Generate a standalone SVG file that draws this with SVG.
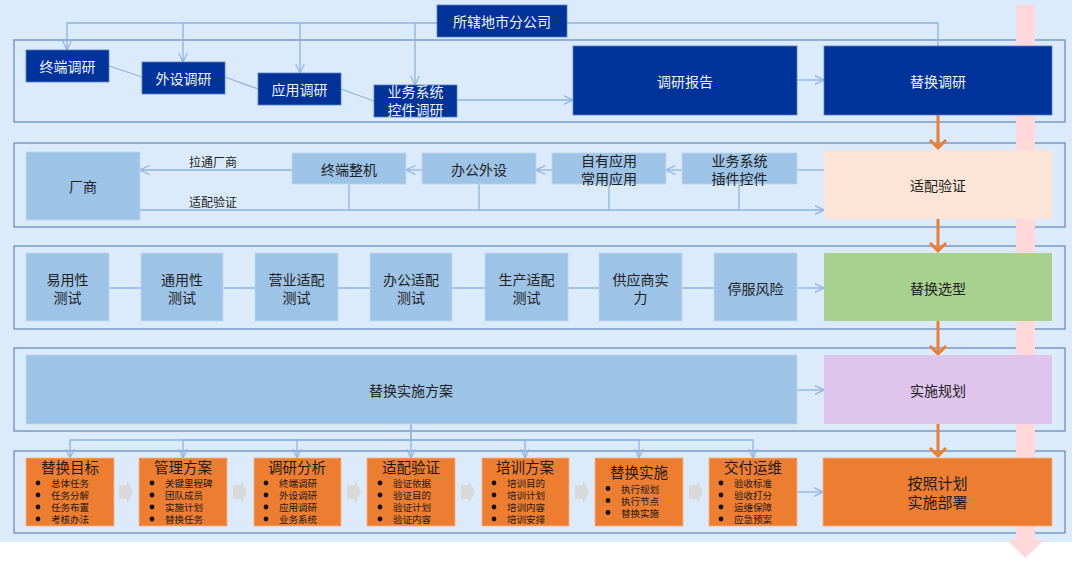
<svg xmlns="http://www.w3.org/2000/svg" width="1080" height="561" viewBox="0 0 1080 561">
<style>
text{font-family:"Noto Sans CJK SC","Noto Sans",sans-serif;text-anchor:middle;dominant-baseline:central}
.frame{fill:none;stroke:#6C8EBF;stroke-width:1.3}
.dk{fill:#003399;stroke:#5B7FC4;stroke-width:0.8}
.lt{fill:#9DC3E6;stroke:#BDD7EE;stroke-width:0.8}
.or{fill:#ED7D31;stroke:#F4B183;stroke-width:0.8}
.wt{fill:#F2F2F2;font-size:14px}
.bt{fill:#222;font-size:14px}
.lb{fill:#222;font-size:12px;text-anchor:start}
.ttl{fill:#1a1a1a;font-size:14.5px}
.s5{fill:#1a1a1a;font-size:15px}
.it{fill:#1a1a1a;font-size:9.5px;text-anchor:start}
.c{fill:none;stroke:#8DB4E2;stroke-width:1.3}
.ca{fill:none;stroke:#8DB4E2;stroke-width:1.3;marker-end:url(#ah)}
.oa{fill:none;stroke:#ED7D31;stroke-width:3}
.chev{fill:#D9D9D9}
</style>
<defs>
<marker id="ah" viewBox="0 0 10 10" refX="9.5" refY="5" markerWidth="10" markerHeight="10" markerUnits="userSpaceOnUse" orient="auto">
<path d="M0,0.5 L9.5,5 L0,9.5" fill="none" stroke="#8DB4E2" stroke-width="1.2"/>
</marker>
</defs>
<rect x="0" y="0" width="1072" height="542" fill="#DCEBFB"/>
<g id="frames">
<rect class="frame" x="14" y="40" width="1051" height="82"/>
<rect class="frame" x="14" y="143" width="1051" height="84"/>
<rect class="frame" x="14" y="246" width="1051" height="83"/>
<rect class="frame" x="14" y="348" width="1051" height="83"/>
<rect class="frame" x="14" y="451" width="1051" height="82"/>
</g>
<path id="timeline" d="M1016,5 H1035 V540 H1044 L1025.5,558 L1007,540 H1016 Z" fill="#FFD9DA"/>
<g id="connectors">
<path class="ca" d="M437,23 H67 V50"/>
<path class="ca" d="M183,23 V62"/>
<path class="ca" d="M300,23 V73"/>
<path class="ca" d="M415,23 V85"/>
<path class="c" d="M567,23 H938 V46"/>
<path class="c" d="M109,66 L142,77"/>
<path class="c" d="M225,77 L258,89"/>
<path class="c" d="M341,89 L374,101"/>
<path class="ca" d="M457,100 H573"/>
<path class="ca" d="M797,80 H824"/>
<path class="ca" d="M292,170 H140"/>
<path class="ca" d="M422,170 H406"/>
<path class="ca" d="M552,170 H536"/>
<path class="ca" d="M682,170 H666"/>
<path class="c" d="M824,170 H797"/>
<path class="ca" d="M140,210 H824"/>
<path class="c" d="M349,184 V210 M479,184 V210 M609,184 V210 M739,184 V210"/>
<path class="c" d="M109,288 H141 M223,288 H255 M338,288 H370 M452,288 H485 M568,288 H599 M682,288 H714"/>
<path class="ca" d="M797,288 H824"/>
<path class="ca" d="M797,390 H824"/>
<path class="ca" d="M411,424 V440 H70 V458"/>
<path class="ca" d="M411,440 H183 V458"/>
<path class="ca" d="M411,440 H297 V458"/>
<path class="ca" d="M411,424 V458"/>
<path class="ca" d="M411,440 H525 V458"/>
<path class="ca" d="M411,440 H639 V458"/>
<path class="ca" d="M411,440 H753 V458"/>
<path class="ca" d="M797,492 H823"/>
<path class="chev" d="M119,485 H127 V480 L133,492 L127,504 V499 H119 Z"/>
<path class="chev" d="M233,485 H241 V480 L247,492 L241,504 V499 H233 Z"/>
<path class="chev" d="M347,485 H355 V480 L361,492 L355,504 V499 H347 Z"/>
<path class="chev" d="M461,485 H469 V480 L475,492 L469,504 V499 H461 Z"/>
<path class="chev" d="M575,485 H583 V480 L589,492 L583,504 V499 H575 Z"/>
<path class="chev" d="M689,485 H697 V480 L703,492 L697,504 V499 H689 Z"/>
<path class="oa" d="M938,115 V148 M930,140 L938,148 L946,140"/>
<path class="oa" d="M938,219 V251 M930,243 L938,251 L946,243"/>
<path class="oa" d="M938,321 V354 M930,346 L938,354 L946,346"/>
<path class="oa" d="M938,424 V456 M930,448 L938,456 L946,448"/>
</g>
<g id="n-branch"><rect class="dk" x="437" y="5" width="130" height="32"/><text class="wt" x="502" y="21">所辖地市分公司</text></g>
<g id="n-r1a"><rect class="dk" x="26" y="50" width="83" height="32"/><text class="wt" x="67.5" y="66">终端调研</text></g>
<g id="n-r1b"><rect class="dk" x="142" y="62" width="83" height="32"/><text class="wt" x="183.5" y="78">外设调研</text></g>
<g id="n-r1c"><rect class="dk" x="258" y="73" width="83" height="32"/><text class="wt" x="299.5" y="89">应用调研</text></g>
<g id="n-r1d"><rect class="dk" x="374" y="85" width="83" height="32"/><text class="wt" x="415.5" y="91">业务系统</text><text class="wt" x="415.5" y="109">控件调研</text></g>
<g id="n-report"><rect class="dk" x="573" y="46" width="224" height="69"/><text class="wt" x="685" y="80.5">调研报告</text></g>
<g id="n-s1"><rect class="dk" x="824" y="46" width="228" height="69"/><text class="wt" x="938" y="80.5">替换调研</text></g>
<g id="n-vendor"><rect class="lt" x="26" y="152" width="114" height="68"/><text class="bt" x="83" y="186">厂商</text></g>
<text class="lb" x="189" y="161">拉通厂商</text>
<text class="lb" x="189" y="201">适配验证</text>
<g id="n-r2a"><rect class="lt" x="292" y="153" width="114" height="31"/><text class="bt" x="349" y="168.5">终端整机</text></g>
<g id="n-r2b"><rect class="lt" x="422" y="153" width="114" height="31"/><text class="bt" x="479" y="168.5">办公外设</text></g>
<g id="n-r2c"><rect class="lt" x="552" y="153" width="114" height="31"/><text class="bt" x="609" y="159.5">自有应用</text><text class="bt" x="609" y="177.5">常用应用</text></g>
<g id="n-r2d"><rect class="lt" x="682" y="153" width="115" height="31"/><text class="bt" x="739.5" y="159.5">业务系统</text><text class="bt" x="739.5" y="177.5">插件控件</text></g>
<g id="n-s2"><rect x="824" y="150" width="228" height="69" fill="#FCE4D6"/><text class="bt" x="938" y="185">适配验证</text></g>
<g id="n-r3a"><rect class="lt" x="26" y="253" width="83" height="68"/><text class="bt" x="67.5" y="279">易用性</text><text class="bt" x="67.5" y="297">测试</text></g>
<g id="n-r3b"><rect class="lt" x="141" y="253" width="82" height="68"/><text class="bt" x="182" y="279">通用性</text><text class="bt" x="182" y="297">测试</text></g>
<g id="n-r3c"><rect class="lt" x="255" y="253" width="83" height="68"/><text class="bt" x="296.5" y="279">营业适配</text><text class="bt" x="296.5" y="297">测试</text></g>
<g id="n-r3d"><rect class="lt" x="370" y="253" width="82" height="68"/><text class="bt" x="411" y="279">办公适配</text><text class="bt" x="411" y="297">测试</text></g>
<g id="n-r3e"><rect class="lt" x="485" y="253" width="83" height="68"/><text class="bt" x="526.5" y="279">生产适配</text><text class="bt" x="526.5" y="297">测试</text></g>
<g id="n-r3f"><rect class="lt" x="599" y="253" width="83" height="68"/><text class="bt" x="640.5" y="279">供应商实</text><text class="bt" x="640.5" y="297">力</text></g>
<g id="n-r3g"><rect class="lt" x="714" y="253" width="83" height="68"/><text class="bt" x="755.5" y="288">停服风险</text></g>
<g id="n-s3"><rect x="824" y="253" width="228" height="68" fill="#A9D18E"/><text class="bt" x="938" y="288">替换选型</text></g>
<g id="n-plan"><rect class="lt" x="26" y="355" width="771" height="69"/><text class="bt" x="411" y="390">替换实施方案</text></g>
<g id="n-s4"><rect x="824" y="355" width="228" height="69" fill="#DFC4EC"/><text class="bt" x="938" y="390">实施规划</text></g>
<g id="n-r5a"><rect class="or" x="26" y="458" width="88" height="68"/><text class="ttl" x="70" y="466">替换目标</text>
<g fill="#111"><circle cx="38" cy="483" r="2.4"/><circle cx="38" cy="495" r="2.4"/><circle cx="38" cy="507" r="2.4"/><circle cx="38" cy="519" r="2.4"/></g>
<text class="it" x="51" y="483">总体任务</text><text class="it" x="51" y="495">任务分解</text><text class="it" x="51" y="507">任务布置</text><text class="it" x="51" y="519">考核办法</text></g>
<g id="n-r5b"><rect class="or" x="139" y="458" width="88" height="68"/><text class="ttl" x="183" y="466">管理方案</text>
<g fill="#111"><circle cx="152" cy="483" r="2.4"/><circle cx="152" cy="495" r="2.4"/><circle cx="152" cy="507" r="2.4"/><circle cx="152" cy="519" r="2.4"/></g>
<text class="it" x="165" y="483">关键里程碑</text><text class="it" x="165" y="495">团队成员</text><text class="it" x="165" y="507">实施计划</text><text class="it" x="165" y="519">替换任务</text></g>
<g id="n-r5c"><rect class="or" x="254" y="458" width="87" height="68"/><text class="ttl" x="297" y="466">调研分析</text>
<g fill="#111"><circle cx="266" cy="483" r="2.4"/><circle cx="266" cy="495" r="2.4"/><circle cx="266" cy="507" r="2.4"/><circle cx="266" cy="519" r="2.4"/></g>
<text class="it" x="279" y="483">终端调研</text><text class="it" x="279" y="495">外设调研</text><text class="it" x="279" y="507">应用调研</text><text class="it" x="279" y="519">业务系统</text></g>
<g id="n-r5d"><rect class="or" x="367" y="458" width="88" height="68"/><text class="ttl" x="411" y="466">适配验证</text>
<g fill="#111"><circle cx="380" cy="483" r="2.4"/><circle cx="380" cy="495" r="2.4"/><circle cx="380" cy="507" r="2.4"/><circle cx="380" cy="519" r="2.4"/></g>
<text class="it" x="393" y="483">验证依据</text><text class="it" x="393" y="495">验证目的</text><text class="it" x="393" y="507">验证计划</text><text class="it" x="393" y="519">验证内容</text></g>
<g id="n-r5e"><rect class="or" x="482" y="458" width="87" height="68"/><text class="ttl" x="525" y="466">培训方案</text>
<g fill="#111"><circle cx="494" cy="483" r="2.4"/><circle cx="494" cy="495" r="2.4"/><circle cx="494" cy="507" r="2.4"/><circle cx="494" cy="519" r="2.4"/></g>
<text class="it" x="507" y="483">培训目的</text><text class="it" x="507" y="495">培训计划</text><text class="it" x="507" y="507">培训内容</text><text class="it" x="507" y="519">培训安排</text></g>
<g id="n-r5f"><rect class="or" x="595" y="458" width="88" height="68"/><text class="ttl" x="639" y="471">替换实施</text>
<g fill="#111"><circle cx="608" cy="488.5" r="2.4"/><circle cx="608" cy="500.5" r="2.4"/><circle cx="608" cy="512.5" r="2.4"/></g>
<text class="it" x="621" y="488.5">执行规划</text><text class="it" x="621" y="500.5">执行节点</text><text class="it" x="621" y="512.5">替换实施</text></g>
<g id="n-r5g"><rect class="or" x="709" y="458" width="88" height="68"/><text class="ttl" x="753" y="466">交付运维</text>
<g fill="#111"><circle cx="721" cy="483" r="2.4"/><circle cx="721" cy="495" r="2.4"/><circle cx="721" cy="507" r="2.4"/><circle cx="721" cy="519" r="2.4"/></g>
<text class="it" x="734" y="483">验收标准</text><text class="it" x="734" y="495">验收打分</text><text class="it" x="734" y="507">运维保障</text><text class="it" x="734" y="519">应急预案</text></g>
<g id="n-s5"><rect class="or" x="823" y="458" width="229" height="68"/><text class="s5" x="937.5" y="482">按照计划</text><text class="s5" x="937.5" y="501.5">实施部署</text></g>
</svg>
